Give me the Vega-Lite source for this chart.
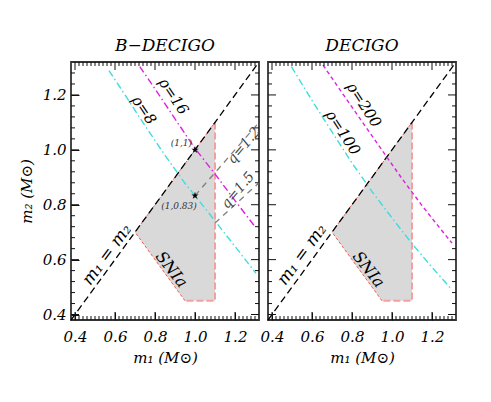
{
  "$schema": "https://vega.github.io/schema/vega-lite/v6.json",
  "padding": {"left": 18, "top": 36, "right": 5, "bottom": 5},
  "background": "white",
  "spacing": 9,
  "bounds": "flush",
  "config": {
    "font": "DejaVu Serif",
    "view": {"stroke": "#333", "strokeWidth": 1.8},
    "axis": {"grid": false, "domain": false, "ticks": true, "tickOpacity": 1, "labelFont": "DejaVu Serif", "labelFontStyle": "italic", "labelFontSize": 15, "labelColor": "#000", "tickColor": "#111", "tickWidth": 1, "titleFont": "DejaVu Serif", "titleFontStyle": "italic", "titleFontWeight": "normal", "titleFontSize": 15, "titleColor": "#000"},
    "title": {"font": "DejaVu Serif", "fontStyle": "italic", "fontWeight": "normal", "fontSize": 17, "offset": 4, "color": "#000"}
  },
  "datasets": {
    "xticks": [
      {"v": 0.4, "kind": "major"}, {"v": 0.6, "kind": "major"}, {"v": 0.8, "kind": "major"}, {"v": 1.0, "kind": "major"}, {"v": 1.2, "kind": "major"},
      {"v": 0.42, "kind": "minor"}, {"v": 0.44, "kind": "minor"}, {"v": 0.46, "kind": "minor"}, {"v": 0.48, "kind": "minor"}, {"v": 0.5, "kind": "minor"}, {"v": 0.52, "kind": "minor"}, {"v": 0.54, "kind": "minor"}, {"v": 0.56, "kind": "minor"}, {"v": 0.58, "kind": "minor"},
      {"v": 0.62, "kind": "minor"}, {"v": 0.64, "kind": "minor"}, {"v": 0.66, "kind": "minor"}, {"v": 0.68, "kind": "minor"}, {"v": 0.7, "kind": "minor"}, {"v": 0.72, "kind": "minor"}, {"v": 0.74, "kind": "minor"}, {"v": 0.76, "kind": "minor"}, {"v": 0.78, "kind": "minor"},
      {"v": 0.82, "kind": "minor"}, {"v": 0.84, "kind": "minor"}, {"v": 0.86, "kind": "minor"}, {"v": 0.88, "kind": "minor"}, {"v": 0.9, "kind": "minor"}, {"v": 0.92, "kind": "minor"}, {"v": 0.94, "kind": "minor"}, {"v": 0.96, "kind": "minor"}, {"v": 0.98, "kind": "minor"},
      {"v": 1.02, "kind": "minor"}, {"v": 1.04, "kind": "minor"}, {"v": 1.06, "kind": "minor"}, {"v": 1.08, "kind": "minor"}, {"v": 1.1, "kind": "minor"}, {"v": 1.12, "kind": "minor"}, {"v": 1.14, "kind": "minor"}, {"v": 1.16, "kind": "minor"}, {"v": 1.18, "kind": "minor"},
      {"v": 1.22, "kind": "minor"}, {"v": 1.24, "kind": "minor"}, {"v": 1.26, "kind": "minor"}, {"v": 1.28, "kind": "minor"}, {"v": 1.3, "kind": "minor"}
    ],
    "yticks": [
      {"v": 0.4, "kind": "major"}, {"v": 0.6, "kind": "major"}, {"v": 0.8, "kind": "major"}, {"v": 1.0, "kind": "major"}, {"v": 1.2, "kind": "major"},
      {"v": 0.44, "kind": "minor"}, {"v": 0.48, "kind": "minor"}, {"v": 0.52, "kind": "minor"}, {"v": 0.56, "kind": "minor"},
      {"v": 0.64, "kind": "minor"}, {"v": 0.68, "kind": "minor"}, {"v": 0.72, "kind": "minor"}, {"v": 0.76, "kind": "minor"},
      {"v": 0.84, "kind": "minor"}, {"v": 0.88, "kind": "minor"}, {"v": 0.92, "kind": "minor"}, {"v": 0.96, "kind": "minor"},
      {"v": 1.04, "kind": "minor"}, {"v": 1.08, "kind": "minor"}, {"v": 1.12, "kind": "minor"}, {"v": 1.16, "kind": "minor"},
      {"v": 1.24, "kind": "minor"}, {"v": 1.28, "kind": "minor"}
    ],
    "diag": [{"m1": 0.38, "m2": 0.38}, {"m1": 1.32, "m2": 1.32}],
    "snia": [{"m1": 0.7, "lo": 0.7, "hi": 0.7}, {"m1": 0.95, "lo": 0.45, "hi": 0.95}, {"m1": 1.1, "lo": 0.45, "hi": 1.1}],
    "edge": [
      {"seg": "thin", "i": 0, "m1": 0.95, "m2": 0.45}, {"seg": "thin", "i": 1, "m1": 0.7, "m2": 0.7}, {"seg": "thin", "i": 2, "m1": 1.1, "m2": 1.1},
      {"seg": "thick", "i": 0, "m1": 1.1, "m2": 1.1}, {"seg": "thick", "i": 1, "m1": 1.1, "m2": 0.45}, {"seg": "thick", "i": 2, "m1": 0.95, "m2": 0.45}
    ],
    "qlines": [
      {"q": "1.2", "m1": 1.0, "m2": 0.8333}, {"q": "1.2", "m1": 1.32, "m2": 1.1},
      {"q": "1.5", "m1": 1.1, "m2": 0.7333}, {"q": "1.5", "m1": 1.32, "m2": 0.88}
    ],
    "curves": [
      {"name": "rho8", "m1": 0.57, "m2": 1.289}, {"name": "rho8", "m1": 0.65, "m2": 1.2}, {"name": "rho8", "m1": 0.75, "m2": 1.088}, {"name": "rho8", "m1": 0.85, "m2": 0.98}, {"name": "rho8", "m1": 0.95, "m2": 0.878}, {"name": "rho8", "m1": 1.0, "m2": 0.833}, {"name": "rho8", "m1": 1.1, "m2": 0.741}, {"name": "rho8", "m1": 1.2, "m2": 0.648}, {"name": "rho8", "m1": 1.305, "m2": 0.55},
      {"name": "rho16", "m1": 0.724, "m2": 1.303}, {"name": "rho16", "m1": 0.8, "m2": 1.222}, {"name": "rho16", "m1": 0.9, "m2": 1.113}, {"name": "rho16", "m1": 1.0, "m2": 1.005}, {"name": "rho16", "m1": 1.1, "m2": 0.912}, {"name": "rho16", "m1": 1.2, "m2": 0.815}, {"name": "rho16", "m1": 1.3, "m2": 0.72},
      {"name": "rho100", "m1": 0.497, "m2": 1.303}, {"name": "rho100", "m1": 0.6, "m2": 1.18}, {"name": "rho100", "m1": 0.7, "m2": 1.065}, {"name": "rho100", "m1": 0.8, "m2": 0.952}, {"name": "rho100", "m1": 0.9, "m2": 0.848}, {"name": "rho100", "m1": 1.0, "m2": 0.752}, {"name": "rho100", "m1": 1.1, "m2": 0.658}, {"name": "rho100", "m1": 1.2, "m2": 0.572}, {"name": "rho100", "m1": 1.3, "m2": 0.49},
      {"name": "rho200", "m1": 0.655, "m2": 1.309}, {"name": "rho200", "m1": 0.75, "m2": 1.208}, {"name": "rho200", "m1": 0.85, "m2": 1.103}, {"name": "rho200", "m1": 0.95, "m2": 0.999}, {"name": "rho200", "m1": 1.05, "m2": 0.895}, {"name": "rho200", "m1": 1.15, "m2": 0.797}, {"name": "rho200", "m1": 1.25, "m2": 0.705}, {"name": "rho200", "m1": 1.3, "m2": 0.66}
    ],
    "stars": [{"m1": 1.0, "m2": 1.0}, {"m1": 1.0, "m2": 0.833}],
    "labels": [
      {"panel": "L", "kind": "rho", "text": "ρ=8", "m1": 0.745, "m2": 1.145},
      {"panel": "L", "kind": "rho", "text": "ρ=16", "m1": 0.893, "m2": 1.195},
      {"panel": "L", "kind": "star", "text": "(1,1)", "m1": 0.932, "m2": 1.024},
      {"panel": "L", "kind": "star", "text": "(1,0.83)", "m1": 0.92, "m2": 0.794},
      {"panel": "L", "kind": "q", "text": "q=1.2", "m1": 1.245, "m2": 1.015},
      {"panel": "L", "kind": "q", "text": "q=1.5", "m1": 1.215, "m2": 0.852},
      {"panel": "L", "kind": "diag", "text": "m₁ = m₂", "m1": 0.56, "m2": 0.618},
      {"panel": "L", "kind": "snia", "text": "SNIa", "m1": 0.882, "m2": 0.564},
      {"panel": "R", "kind": "rho", "text": "ρ=200", "m1": 0.86, "m2": 1.164},
      {"panel": "R", "kind": "rho", "text": "ρ=100", "m1": 0.755, "m2": 1.063},
      {"panel": "R", "kind": "diag", "text": "m₁ = m₂", "m1": 0.55, "m2": 0.618},
      {"panel": "R", "kind": "snia", "text": "SNIa", "m1": 0.883, "m2": 0.564}
    ]
  },
  "hconcat": [
    {
      "width": 188, "height": 258,
      "title": {"text": "B−DECIGO"},
      "resolve": {"axis": {"x": "independent", "y": "independent"}},
      "layer": [
        {
          "data": {"name": "snia"},
          "mark": {"type": "area", "color": "#d9d9d9", "opacity": 1},
          "encoding": {
            "x": {"field": "m1", "type": "quantitative", "scale": {"domain": [0.38, 1.32], "nice": false, "zero": false}, "axis": {"orient": "bottom", "values": [0.4, 0.6, 0.8, 1.0, 1.2], "format": ".1f", "tickSize": -8, "labelPadding": 17, "title": "m₁ (M⊙)", "titlePadding": 6}},
            "y": {"field": "lo", "type": "quantitative", "scale": {"domain": [0.38, 1.32], "nice": false, "zero": false}, "axis": {"orient": "left", "values": [0.4, 0.6, 0.8, 1.0, 1.2], "format": ".1f", "tickSize": -8, "labelPadding": 13, "title": "m₂ (M⊙)", "titlePadding": 8}},
            "y2": {"field": "hi"}
          }
        },
        {
          "data": {"name": "edge"},
          "transform": [{"filter": "datum.seg == 'thin'"}],
          "mark": {"type": "line", "color": "#f05a5a", "strokeWidth": 1, "strokeDash": [3, 2]},
          "encoding": {
            "x": {"field": "m1", "type": "quantitative", "axis": null},
            "y": {"field": "m2", "type": "quantitative", "axis": null},
            "order": {"field": "i", "type": "quantitative"}
          }
        },
        {
          "data": {"name": "edge"},
          "transform": [{"filter": "datum.seg == 'thick'"}],
          "mark": {"type": "line", "color": "#f4a0a0", "strokeWidth": 2, "strokeDash": [7, 3]},
          "encoding": {
            "x": {"field": "m1", "type": "quantitative", "axis": null},
            "y": {"field": "m2", "type": "quantitative", "axis": null},
            "order": {"field": "i", "type": "quantitative"}
          }
        },
        {
          "data": {"name": "diag"},
          "mark": {"type": "line", "color": "#000", "strokeWidth": 1.3, "strokeDash": [7, 4]},
          "encoding": {
            "x": {"field": "m1", "type": "quantitative", "axis": null},
            "y": {"field": "m2", "type": "quantitative", "axis": null}
          }
        },
        {
          "data": {"name": "qlines"},
          "mark": {"type": "line", "color": "#808080", "strokeWidth": 1.3, "strokeDash": [6, 5], "clip": true},
          "encoding": {
            "x": {"field": "m1", "type": "quantitative", "axis": null},
            "y": {"field": "m2", "type": "quantitative", "axis": null},
            "detail": {"field": "q", "type": "nominal"}
          }
        },
        {
          "data": {"name": "curves"},
          "transform": [{"filter": "datum.name == 'rho8'"}],
          "mark": {"type": "line", "color": "#40dce0", "strokeWidth": 1.4, "strokeDash": [7, 3, 1.5, 3], "clip": true},
          "encoding": {
            "x": {"field": "m1", "type": "quantitative", "axis": null},
            "y": {"field": "m2", "type": "quantitative", "axis": null}
          }
        },
        {
          "data": {"name": "curves"},
          "transform": [{"filter": "datum.name == 'rho16'"}],
          "mark": {"type": "line", "color": "#e020e0", "strokeWidth": 1.4, "strokeDash": [7, 3, 1.5, 3], "clip": true},
          "encoding": {
            "x": {"field": "m1", "type": "quantitative", "axis": null},
            "y": {"field": "m2", "type": "quantitative", "axis": null}
          }
        },
        {
          "data": {"name": "xticks"},
          "mark": {"type": "tick", "orient": "vertical", "thickness": 1, "color": "#111", "opacity": 1, "clip": true},
          "encoding": {
            "x": {"field": "v", "type": "quantitative", "axis": null},
            "y": {"datum": 0.38, "type": "quantitative", "axis": null},
            "size": {"field": "kind", "type": "nominal", "scale": {"domain": ["major", "minor"], "range": [16, 8]}, "legend": null}
          }
        },
        {
          "data": {"name": "xticks"},
          "mark": {"type": "tick", "orient": "vertical", "thickness": 1, "color": "#111", "opacity": 1, "clip": true},
          "encoding": {
            "x": {"field": "v", "type": "quantitative", "axis": null},
            "y": {"datum": 1.32, "type": "quantitative", "axis": null},
            "size": {"field": "kind", "type": "nominal", "scale": {"domain": ["major", "minor"], "range": [16, 8]}, "legend": null}
          }
        },
        {
          "data": {"name": "yticks"},
          "mark": {"type": "tick", "orient": "horizontal", "thickness": 1, "color": "#111", "opacity": 1, "clip": true},
          "encoding": {
            "y": {"field": "v", "type": "quantitative", "axis": null},
            "x": {"datum": 0.38, "type": "quantitative", "axis": null},
            "size": {"field": "kind", "type": "nominal", "scale": {"domain": ["major", "minor"], "range": [16, 8]}, "legend": null}
          }
        },
        {
          "data": {"name": "yticks"},
          "mark": {"type": "tick", "orient": "horizontal", "thickness": 1, "color": "#111", "opacity": 1, "clip": true},
          "encoding": {
            "y": {"field": "v", "type": "quantitative", "axis": null},
            "x": {"datum": 1.32, "type": "quantitative", "axis": null},
            "size": {"field": "kind", "type": "nominal", "scale": {"domain": ["major", "minor"], "range": [16, 8]}, "legend": null}
          }
        },
        {
          "data": {"name": "stars"},
          "mark": {"type": "point", "shape": "M0,-1L0.2245,-0.309L0.951,-0.309L0.363,0.118L0.588,0.809L0,0.382L-0.588,0.809L-0.363,0.118L-0.951,-0.309L-0.2245,-0.309Z", "filled": true, "color": "#000", "size": 60, "opacity": 1},
          "encoding": {
            "x": {"field": "m1", "type": "quantitative", "axis": null},
            "y": {"field": "m2", "type": "quantitative", "axis": null}
          }
        },
        {
          "data": {"name": "labels"},
          "transform": [{"filter": "datum.panel == 'L' && datum.kind == 'rho'"}],
          "mark": {"type": "text", "font": "DejaVu Serif", "fontStyle": "italic", "fontSize": 15, "angle": 56, "align": "center", "baseline": "middle", "color": "#000"},
          "encoding": {"x": {"field": "m1", "type": "quantitative", "axis": null}, "y": {"field": "m2", "type": "quantitative", "axis": null}, "text": {"field": "text"}}
        },
        {
          "data": {"name": "labels"},
          "transform": [{"filter": "datum.panel == 'L' && datum.kind == 'star'"}],
          "mark": {"type": "text", "font": "DejaVu Serif", "fontStyle": "italic", "fontSize": 9, "align": "center", "baseline": "middle", "color": "#333"},
          "encoding": {"x": {"field": "m1", "type": "quantitative", "axis": null}, "y": {"field": "m2", "type": "quantitative", "axis": null}, "text": {"field": "text"}}
        },
        {
          "data": {"name": "labels"},
          "transform": [{"filter": "datum.panel == 'L' && datum.kind == 'q'"}],
          "mark": {"type": "text", "font": "DejaVu Serif", "fontStyle": "italic", "fontSize": 14, "angle": -50, "align": "center", "baseline": "middle", "color": "#444"},
          "encoding": {"x": {"field": "m1", "type": "quantitative", "axis": null}, "y": {"field": "m2", "type": "quantitative", "axis": null}, "text": {"field": "text"}}
        },
        {
          "data": {"name": "labels"},
          "transform": [{"filter": "datum.panel == 'L' && datum.kind == 'diag'"}],
          "mark": {"type": "text", "font": "DejaVu Serif", "fontStyle": "italic", "fontSize": 17, "angle": -54, "align": "center", "baseline": "middle", "color": "#000"},
          "encoding": {"x": {"field": "m1", "type": "quantitative", "axis": null}, "y": {"field": "m2", "type": "quantitative", "axis": null}, "text": {"field": "text"}}
        },
        {
          "data": {"name": "labels"},
          "transform": [{"filter": "datum.panel == 'L' && datum.kind == 'snia'"}],
          "mark": {"type": "text", "font": "DejaVu Serif", "fontStyle": "italic", "fontSize": 16, "angle": 52, "align": "center", "baseline": "middle", "color": "#000"},
          "encoding": {"x": {"field": "m1", "type": "quantitative", "axis": null}, "y": {"field": "m2", "type": "quantitative", "axis": null}, "text": {"field": "text"}}
        }
      ]
    },
    {
      "width": 188, "height": 258,
      "title": {"text": "DECIGO"},
      "resolve": {"axis": {"x": "independent", "y": "independent"}},
      "layer": [
        {
          "data": {"name": "snia"},
          "mark": {"type": "area", "color": "#d9d9d9", "opacity": 1},
          "encoding": {
            "x": {"field": "m1", "type": "quantitative", "scale": {"domain": [0.38, 1.32], "nice": false, "zero": false}, "axis": {"orient": "bottom", "values": [0.4, 0.6, 0.8, 1.0, 1.2], "format": ".1f", "tickSize": -8, "labelPadding": 17, "title": "m₁ (M⊙)", "titlePadding": 6}},
            "y": {"field": "lo", "type": "quantitative", "scale": {"domain": [0.38, 1.32], "nice": false, "zero": false}, "axis": null},
            "y2": {"field": "hi"}
          }
        },
        {
          "data": {"name": "edge"},
          "transform": [{"filter": "datum.seg == 'thin'"}],
          "mark": {"type": "line", "color": "#f05a5a", "strokeWidth": 1, "strokeDash": [3, 2]},
          "encoding": {
            "x": {"field": "m1", "type": "quantitative", "axis": null},
            "y": {"field": "m2", "type": "quantitative", "axis": null},
            "order": {"field": "i", "type": "quantitative"}
          }
        },
        {
          "data": {"name": "edge"},
          "transform": [{"filter": "datum.seg == 'thick'"}],
          "mark": {"type": "line", "color": "#f4a0a0", "strokeWidth": 2, "strokeDash": [7, 3]},
          "encoding": {
            "x": {"field": "m1", "type": "quantitative", "axis": null},
            "y": {"field": "m2", "type": "quantitative", "axis": null},
            "order": {"field": "i", "type": "quantitative"}
          }
        },
        {
          "data": {"name": "diag"},
          "mark": {"type": "line", "color": "#000", "strokeWidth": 1.3, "strokeDash": [7, 4]},
          "encoding": {
            "x": {"field": "m1", "type": "quantitative", "axis": null},
            "y": {"field": "m2", "type": "quantitative", "axis": null}
          }
        },
        {
          "data": {"name": "curves"},
          "transform": [{"filter": "datum.name == 'rho100'"}],
          "mark": {"type": "line", "color": "#40dce0", "strokeWidth": 1.4, "strokeDash": [7, 3, 1.5, 3], "clip": true},
          "encoding": {
            "x": {"field": "m1", "type": "quantitative", "axis": null},
            "y": {"field": "m2", "type": "quantitative", "axis": null}
          }
        },
        {
          "data": {"name": "curves"},
          "transform": [{"filter": "datum.name == 'rho200'"}],
          "mark": {"type": "line", "color": "#e020e0", "strokeWidth": 1.4, "strokeDash": [4, 3], "clip": true},
          "encoding": {
            "x": {"field": "m1", "type": "quantitative", "axis": null},
            "y": {"field": "m2", "type": "quantitative", "axis": null}
          }
        },
        {
          "data": {"name": "xticks"},
          "mark": {"type": "tick", "orient": "vertical", "thickness": 1, "color": "#111", "opacity": 1, "clip": true},
          "encoding": {
            "x": {"field": "v", "type": "quantitative", "axis": null},
            "y": {"datum": 0.38, "type": "quantitative", "axis": null},
            "size": {"field": "kind", "type": "nominal", "scale": {"domain": ["major", "minor"], "range": [16, 8]}, "legend": null}
          }
        },
        {
          "data": {"name": "xticks"},
          "mark": {"type": "tick", "orient": "vertical", "thickness": 1, "color": "#111", "opacity": 1, "clip": true},
          "encoding": {
            "x": {"field": "v", "type": "quantitative", "axis": null},
            "y": {"datum": 1.32, "type": "quantitative", "axis": null},
            "size": {"field": "kind", "type": "nominal", "scale": {"domain": ["major", "minor"], "range": [16, 8]}, "legend": null}
          }
        },
        {
          "data": {"name": "yticks"},
          "mark": {"type": "tick", "orient": "horizontal", "thickness": 1, "color": "#111", "opacity": 1, "clip": true},
          "encoding": {
            "y": {"field": "v", "type": "quantitative", "axis": null},
            "x": {"datum": 0.38, "type": "quantitative", "axis": null},
            "size": {"field": "kind", "type": "nominal", "scale": {"domain": ["major", "minor"], "range": [16, 8]}, "legend": null}
          }
        },
        {
          "data": {"name": "yticks"},
          "mark": {"type": "tick", "orient": "horizontal", "thickness": 1, "color": "#111", "opacity": 1, "clip": true},
          "encoding": {
            "y": {"field": "v", "type": "quantitative", "axis": null},
            "x": {"datum": 1.32, "type": "quantitative", "axis": null},
            "size": {"field": "kind", "type": "nominal", "scale": {"domain": ["major", "minor"], "range": [16, 8]}, "legend": null}
          }
        },
        {
          "data": {"name": "labels"},
          "transform": [{"filter": "datum.panel == 'R' && datum.kind == 'rho'"}],
          "mark": {"type": "text", "font": "DejaVu Serif", "fontStyle": "italic", "fontSize": 15, "angle": 57, "align": "center", "baseline": "middle", "color": "#000"},
          "encoding": {"x": {"field": "m1", "type": "quantitative", "axis": null}, "y": {"field": "m2", "type": "quantitative", "axis": null}, "text": {"field": "text"}}
        },
        {
          "data": {"name": "labels"},
          "transform": [{"filter": "datum.panel == 'R' && datum.kind == 'diag'"}],
          "mark": {"type": "text", "font": "DejaVu Serif", "fontStyle": "italic", "fontSize": 17, "angle": -54, "align": "center", "baseline": "middle", "color": "#000"},
          "encoding": {"x": {"field": "m1", "type": "quantitative", "axis": null}, "y": {"field": "m2", "type": "quantitative", "axis": null}, "text": {"field": "text"}}
        },
        {
          "data": {"name": "labels"},
          "transform": [{"filter": "datum.panel == 'R' && datum.kind == 'snia'"}],
          "mark": {"type": "text", "font": "DejaVu Serif", "fontStyle": "italic", "fontSize": 16, "angle": 52, "align": "center", "baseline": "middle", "color": "#000"},
          "encoding": {"x": {"field": "m1", "type": "quantitative", "axis": null}, "y": {"field": "m2", "type": "quantitative", "axis": null}, "text": {"field": "text"}}
        }
      ]
    }
  ]
}
